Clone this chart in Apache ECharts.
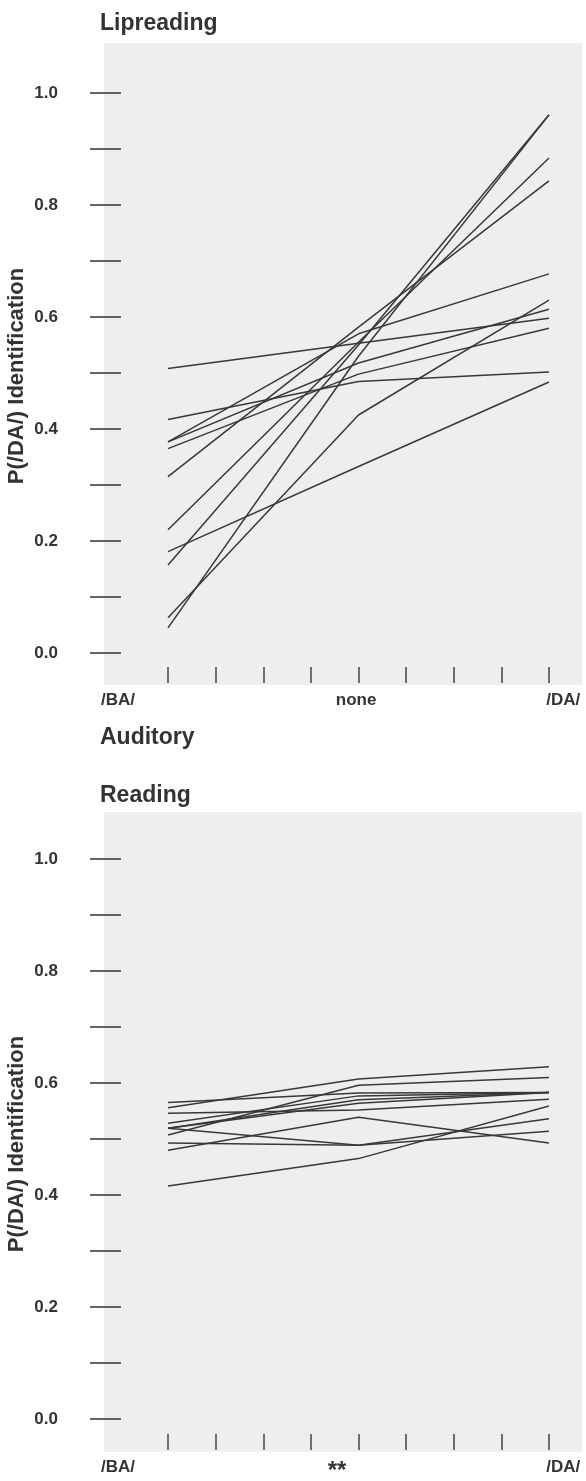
<!DOCTYPE html>
<html>
<head>
<meta charset="utf-8">
<script src="https://cdn.jsdelivr.net/npm/echarts@6/dist/echarts.min.js"></script>
<style>
  html, body { margin: 0; padding: 0; background: #fff; }
  #main { width: 586px; height: 1481px; }
</style>
</head>
<body>
<div id="main"></div>
<script>
// P(/DA/) identification per subject
var lipCategories = ['/BA/', 'none', '/DA/'];
var lipBA   = [0.508, 0.377, 0.377, 0.365, 0.417, 0.315, 0.220, 0.157, 0.045, 0.063, 0.181];
var lipNone = [0.553, 0.570, 0.518, 0.498, 0.485, 0.582, 0.555, 0.550, 0.530, 0.425, 0.333];
var lipDA   = [0.598, 0.677, 0.614, 0.580, 0.502, 0.843, 0.884, 0.961, 0.961, 0.630, 0.484];

var readCategories = ['/BA/', '**', '/DA/'];
var readBA   = [0.556, 0.565, 0.546, 0.507, 0.528, 0.519, 0.519, 0.519, 0.493, 0.480, 0.416];
var readNone = [0.607, 0.582, 0.552, 0.596, 0.577, 0.570, 0.564, 0.489, 0.489, 0.539, 0.465];
var readDA   = [0.629, 0.583, 0.571, 0.610, 0.583, 0.583, 0.583, 0.536, 0.514, 0.493, 0.559];

var yTicks = [0, 0.1, 0.2, 0.3, 0.4, 0.5, 0.6, 0.7, 0.8, 0.9, 1.0];
var yLabels = [0, 0.2, 0.4, 0.6, 0.8, 1.0];
var xTicks = [0, 1, 2, 3, 4, 5, 6, 7, 8];

// stimulus positions on the 0..8 tick scale, and where their labels are printed
var catPos = [0, 4, 8];
var lipLabelPos = [-1.05, 3.95, 8.3];
var readLabelPos = [-1.05, 3.55, 8.3];

var lineColor = '#383838';
var textColor = '#333333';
var font = '"Liberation Sans", Arial, Helvetica, sans-serif';

function buildSeries(ba, none, da, idx) {
    var out = [];
    for (var i = 0; i < ba.length; i++) {
        out.push({
            type: 'line',
            xAxisIndex: idx,
            yAxisIndex: idx,
            symbol: 'none',
            silent: true,
            lineStyle: { color: lineColor, width: 1.5 },
            data: [[catPos[0], ba[i]], [catPos[1], none[i]], [catPos[2], da[i]]]
        });
    }
    return out;
}

function xAxisFor(idx, cats, labelPos) {
    return {
        type: 'value',
        gridIndex: idx,
        min: -1.344,
        max: 8.693,
        offset: -2,
        axisLine: { show: false, onZero: false },
        splitLine: { show: false },
        axisTick: {
            show: true, inside: true, length: 16,
            customValues: xTicks,
            lineStyle: { color: '#444', width: 1.5 }
        },
        axisLabel: {
            customValues: labelPos,
            margin: 9,
            color: textColor,
            fontFamily: font,
            fontWeight: 'bold',
            fontSize: 17,
            formatter: function (v) {
                var t = cats[labelPos.indexOf(v)];
                return t === '**' ? '{star|**}' : t;
            },
            rich: {
                star: { fontSize: 24, fontWeight: 'bold', fontFamily: font, color: textColor }
            }
        }
    };
}

function yAxisFor(idx, min, max) {
    return {
        type: 'value',
        gridIndex: idx,
        min: min,
        max: max,
        offset: -17,
        name: 'P(/DA/) Identification',
        nameLocation: 'middle',
        nameRotate: 90,
        nameGap: 93,
        nameMoveOverlap: false,
        nameTextStyle: {
            color: textColor, fontFamily: font, fontWeight: 'bold', fontSize: 22,
            padding: [0, 24, 0, 0]
        },
        axisLine: { show: false, onZero: false },
        splitLine: { show: false },
        axisTick: {
            show: true, length: 31,
            customValues: yTicks,
            lineStyle: { color: '#333', width: 1.5 }
        },
        axisLabel: {
            customValues: yLabels,
            margin: 63,
            color: textColor,
            fontFamily: font,
            fontWeight: 'bold',
            fontSize: 17,
            formatter: function (v) { return v.toFixed(1); }
        }
    };
}

var option = {
    animation: false,
    backgroundColor: '#fff',
    title: [
        {
            text: 'Lipreading',
            left: 100, top: 12, padding: 0,
            textStyle: { color: textColor, fontFamily: font, fontWeight: 'bold', fontSize: 23 }
        },
        {
            text: 'Auditory\nReading',
            left: 100, top: 709, padding: 0,
            textStyle: { color: textColor, fontFamily: font, fontWeight: 'bold', fontSize: 23, lineHeight: 58 }
        }
    ],
    grid: [
        { left: 104, top: 43, width: 478, height: 642, show: true, backgroundColor: '#eeeeee', borderWidth: 0, outerBoundsMode: 'none', containLabel: false },
        { left: 104, top: 812, width: 478, height: 640, show: true, backgroundColor: '#eeeeee', borderWidth: 0, outerBoundsMode: 'none', containLabel: false }
    ],
    xAxis: [xAxisFor(0, lipCategories, lipLabelPos), xAxisFor(1, readCategories, readLabelPos)],
    yAxis: [yAxisFor(0, -0.0571, 1.0893), yAxisFor(1, -0.0589, 1.0839)],
    series: buildSeries(lipBA, lipNone, lipDA, 0).concat(buildSeries(readBA, readNone, readDA, 1))
};

var myChart = echarts.init(document.getElementById('main'));
myChart.setOption(option);
</script>
</body>
</html>
